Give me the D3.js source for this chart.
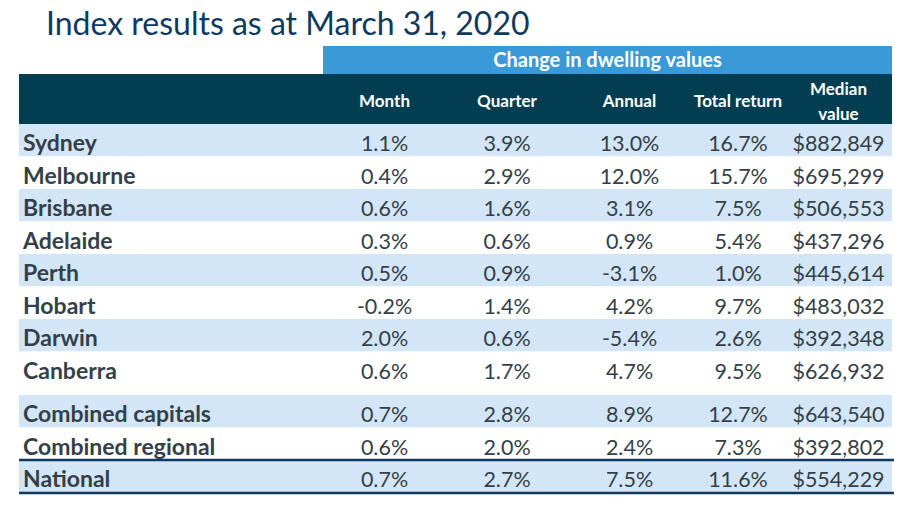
<!DOCTYPE html>
<html><head><meta charset="utf-8">
<script src="https://cdn.jsdelivr.net/npm/d3@7"></script>
<style>body{margin:0;background:#fff}svg{display:block}</style>
</head><body>
<svg id="chart" width="915" height="514"></svg>
<script>
const title = "Index results as at March 31, 2020";
const groupTitle = "Change in dwelling values";
const columns = ["Month", "Quarter", "Annual", "Total return", "Median value"];
const regions = ["Sydney","Melbourne","Brisbane","Adelaide","Perth","Hobart","Darwin","Canberra","Combined capitals","Combined regional","National"];
const month   = [1.1, 0.4, 0.6, 0.3, 0.5, -0.2, 2.0, 0.6, 0.7, 0.6, 0.7];
const quarter = [3.9, 2.9, 1.6, 0.6, 0.9, 1.4, 0.6, 1.7, 2.8, 2.0, 2.7];
const annual  = [13.0, 12.0, 3.1, 0.9, -3.1, 4.2, -5.4, 4.7, 8.9, 2.4, 7.5];
const totalReturn = [16.7, 15.7, 7.5, 5.4, 1.0, 9.7, 2.6, 9.5, 12.7, 7.3, 11.6];
const medianValue = [882849, 695299, 506553, 437296, 445614, 483032, 392348, 626932, 643540, 392802, 554229];

const svg = d3.select("#chart");
const FONT = "Lato, 'Open Sans', sans-serif";
const textCol = "#353f48";
const left = 19, right = 892;
const rowH = 32.5;

// column centres
const xCol = d3.scaleOrdinal().domain(columns).range([384.5, 507, 629.5, 738, 838.5]);

// row positions: capitals block then aggregate block with a gap
function rowTop(i) { return i < 8 ? 124 + i * rowH : 395 + (i - 8) * rowH; }

const pctF = d3.format(".1f");
const pct = v => pctF(v).replace("\u2212", "-") + "%";
const money = d3.format("$,.0f");
const rows = regions.map((r, i) => ({
  name: r, i,
  vals: [pct(month[i]), pct(quarter[i]), pct(annual[i]), pct(totalReturn[i]), money(medianValue[i])]
}));

// title
svg.append("text").attr("x", 46).attr("y", 35)
  .attr("font-family", FONT).attr("font-size", 32).attr("fill", "#0f3a60")
  .text(title);

// group header bar
svg.append("rect").attr("x", 323).attr("y", 46).attr("width", right - 323).attr("height", 28).attr("fill", "#3a9ad8");
svg.append("text").attr("x", (323 + right) / 2).attr("y", 67).attr("text-anchor", "middle")
  .attr("font-family", FONT).attr("font-weight", 700).attr("font-size", 20).attr("fill", "#fff")
  .text(groupTitle);

// dark header
svg.append("rect").attr("x", left).attr("y", 74).attr("width", right - left).attr("height", 50).attr("fill", "#023e51");
columns.forEach(c => {
  const words = c === "Median value" ? ["Median", "value"] : [c];
  const t = svg.append("text").attr("x", xCol(c)).attr("text-anchor", "middle")
    .attr("font-family", FONT).attr("font-weight", 700).attr("font-size", 17).attr("fill", "#fff");
  if (words.length === 1) t.attr("y", 107).text(c);
  else words.forEach((w, k) => t.append("tspan").attr("x", xCol(c)).attr("y", 95 + k * 25).text(w));
});

// row bands
const shaded = new Set([0, 2, 4, 6, 8, 10]);
const g = svg.append("g");
const rg = g.selectAll("g.row").data(rows).join("g").attr("class", "row")
  .attr("transform", d => `translate(0,${rowTop(d.i)})`);
rg.append("rect").attr("x", left).attr("width", right - left).attr("height", rowH)
  .attr("fill", d => shaded.has(d.i) ? "#d3e6f7" : "#ffffff");
rg.append("text").attr("x", 23).attr("y", 27)
  .attr("font-family", FONT).attr("font-weight", 700).attr("font-size", 23).attr("fill", textCol)
  .text(d => d.name);
rg.selectAll("text.v").data(d => d.vals.map((v, k) => ({ v, c: columns[k] }))).join("text").attr("class", "v")
  .attr("x", d => xCol(d.c)).attr("y", 27).attr("text-anchor", "middle")
  .attr("font-family", FONT).attr("font-size", 21.5).attr("fill", textCol)
  .text(d => d.v);

// rules around National
[rowTop(10), rowTop(10) + rowH + 0.5].forEach(y => {
  svg.append("line").attr("x1", left).attr("x2", right + 2).attr("y1", y).attr("y2", y)
    .attr("stroke", "#0f3a60").attr("stroke-width", 2.5);
});
</script>
</body></html>
